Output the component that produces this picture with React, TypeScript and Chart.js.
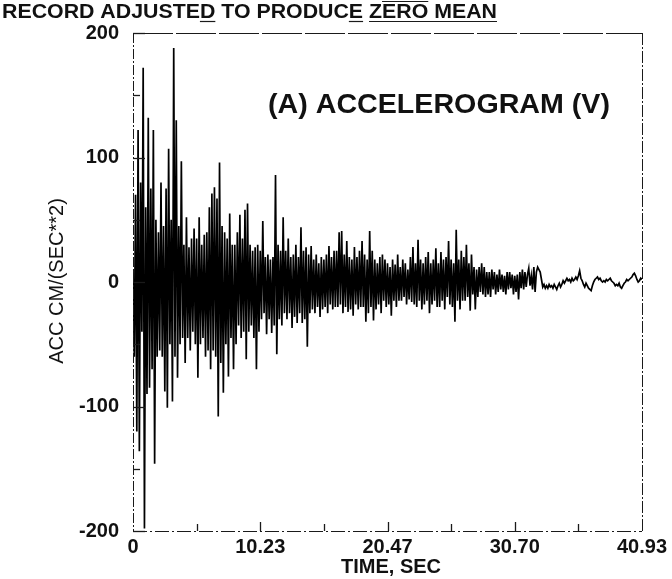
import { useEffect, useRef } from "react";
import { Chart, registerables } from "chart.js";

Chart.register(...registerables);

// ---- data (one sample per step) ----
const TIME_END = 40.93;
const SAMPLE_COUNT = 401;

// 0 - 10 s
const accSeg1 = [
  10, -60, 70, -120, 122, -136, 80, -40, 172, -198,
  60, -90, 132, -85, 75, -70, 122, -146, 50, -60,
  40, -55, 80, -60, 45, -88, 75, -101, 107, -50,
  50, -96, 188, -60, 130, -77, 45, -50, 97, -45,
  30, -65, 52, -45, 28, -55, 35, -40, 43, -50,
  35, -77, 52, -50, 30, -45, 38, -60, 40, -55,
  60, -70, 71, -55, 76, -60, 67, -108, 96, -65,
  45, -89, 40, -50, 35, -76, 55, -45, 30, -70,
  30, -50, 40, -35, 54, -45, 35, -40, 58, -62,
  63, -40, 30, -35, 25, -45, 28, -70, 30, -40,
];
// 10 - 20 s
const accSeg2 = [
  25, -30, 49, -25, 20, -42, 22, -30, 18, -41,
  20, -35, 86, -58, 30, -30, 25, -35, 52, -25,
  25, -30, 35, -25, 20, -37, 22, -28, 30, -33,
  20, -25, 44, -33, 25, -30, 28, -52, 22, -25,
  29, -22, 18, -25, 22, -20, 15, -28, 20, -22,
  18, -20, 22, -25, 29, -18, 20, -22, 25, -20,
  25, -20, 40, -18, 41, -25, 22, -20, 33, -24,
  20, -22, 18, -27, 28, -18, 20, -22, 25, -20,
  33, -20, 22, -32, 18, -25, 41, -20, 25, -31,
  18, -22, 15, -18, 20, -25, 22, -15, 18, -20,
];
// 20 - 30 s
const accSeg3 = [
  15, -18, 12, -27, 18, -15, 14, -20, 22, -15,
  12, -15, 18, -12, 15, -18, 10, -14, 20, -16,
  28, -18, 15, -20, 34, -15, 18, -22, 15, -18,
  20, -15, 24, -25, 15, -18, 18, -15, 27, -20,
  15, -20, 24, -15, 18, -22, 20, -12, 33, -18,
  18, -20, 15, -32, 42, -15, 18, -22, 25, -15,
  20, -15, 30, -12, 15, -23, 22, -10, 12, -22,
  10, -12, 12, -8, 15, -10, 12, -12, 8, -10,
  8, -12, 10, -6, 8, -10, 6, -8, 10, -6,
  6, -8, 5, -10, 8, -6, 8, -5, 6, -10,
];
// 30 - 40.93 s
const accSeg4 = [
  5, -8, 6, -14, 8, -5, 10, -6, 8, -4,
  6, 11, -3, 5, -6, 12, -8, 8, 12, 10,
  8, 2, -4, -2, -5, -3, -5, -2, -4, -3,
  -5, -2, -4, -6, -3, -1, -4, -2, 1, -1,
  1, 3, 1, 2, 0, 3, 1, 2, 4, 2,
  5, 9, 3, 1, -2, -4, -1, -3, -5, -6,
  -7, -3, 0, 2, 3, 4, 2, 3, 1, 0,
  1, 0, 2, 1, 2, 3, 1, 0, -1, -3,
  -2, -3, -1, -4, -5, -3, -1, 0, 2, 1,
  2, 3, 4, 6, 7, 5, 2, 0, 1, 3, 2,
];

const xTickValues = [0, 10.2325, 20.465, 30.6975, 40.93];
const xTickLabels = ["0", "10.23", "20.47", "30.70", "40.93"];
const xMinorTicks = [5.11625, 15.34875, 25.58125, 35.81375];
const yTickValues = [-200, -100, 0, 100, 200];
const yMinorTicks = [-150, -50, 50, 150];

const TITLE = "RECORD ADJUSTED TO PRODUCE ZERO MEAN";
const PANEL_LABEL = "(A) ACCELEROGRAM (V)";
const Y_TITLE = "ACC CM/(SEC**2)";
const X_TITLE = "TIME, SEC";

const INK = "#111";
const FONT = "'Liberation Sans', Arial, Helvetica, sans-serif";

function fitText(
  ctx: CanvasRenderingContext2D,
  text: string,
  x: number,
  y: number,
  width: number,
  font: string
) {
  ctx.font = font;
  const w = ctx.measureText(text).width;
  const s = width / w;
  ctx.save();
  ctx.translate(x, y);
  ctx.scale(s, 1);
  ctx.textAlign = "left";
  ctx.textBaseline = "alphabetic";
  ctx.fillText(text, 0, 0);
  ctx.restore();
  return (sub: string) => ctx.measureText(sub).width * s;
}

const overlayPlugin = {
  id: "overlay",
  afterDraw(chart: any) {
    const ctx: CanvasRenderingContext2D = chart.ctx;
    const { left, right, top, bottom } = chart.chartArea;
    const xs = chart.scales.x;
    const ys = chart.scales.y;
    ctx.save();
    ctx.strokeStyle = "#1a1a1a";
    ctx.fillStyle = INK;
    ctx.lineWidth = 1;

    // frame (scan-like broken lines)
    const line = (x1: number, y1: number, x2: number, y2: number, dash: number[]) => {
      ctx.setLineDash(dash);
      ctx.beginPath();
      ctx.moveTo(x1, y1);
      ctx.lineTo(x2, y2);
      ctx.stroke();
    };
    line(left + 0.5, top, left + 0.5, bottom, [10, 2, 2, 2]);
    line(right + 0.5, top, right + 0.5, bottom, [12, 2, 2, 2]);
    line(left, top + 0.5, right, top + 0.5, [40, 3]);
    line(left, bottom + 0.5, right, bottom + 0.5, [14, 3, 2, 3]);
    ctx.setLineDash([]);

    // inward ticks
    ctx.lineWidth = 1.3;
    yTickValues.forEach((v) => {
      const y = Math.round(ys.getPixelForValue(v)) + 0.5;
      line(left, y, left + 12, y, []);
    });
    yMinorTicks.forEach((v) => {
      const y = Math.round(ys.getPixelForValue(v)) + 0.5;
      line(left, y, left + 7, y, []);
    });
    xTickValues.slice(1, -1).forEach((v) => {
      const x = Math.round(xs.getPixelForValue(v)) + 0.5;
      line(x, bottom, x, bottom - 9, []);
    });
    xMinorTicks.forEach((v) => {
      const x = Math.round(xs.getPixelForValue(v)) + 0.5;
      line(x, bottom, x, bottom - 7, []);
    });

    // header title with underlines
    ctx.fillStyle = INK;
    const m = fitText(ctx, TITLE, 2, 18, 495, `bold 21px ${FONT}`);
    ctx.lineWidth = 1.2;
    const under = (startSub: string, sub: string, y: number) => {
      const x1 = 2 + m(startSub);
      const x2 = x1 + m(sub);
      line(x1, y, x2, y, []);
    };
    under("RECORD ADJUSTE", "D", 21.5);
    under("RECORD ADJUSTED TO PRODUC", "E", 21.5);
    under("RECORD ADJUSTED TO PRODUCE ", "ZERO MEAN", 21.5);
    {
      const x1 = 2 + m("RECORD ADJUSTED TO PRODUCE Z");
      const x2 = 2 + m("RECORD ADJUSTED TO PRODUCE ZERO");
      line(x1, 1.5, x2, 1.5, []);
    }

    // panel label
    fitText(ctx, PANEL_LABEL, 268, 113, 342, `bold 28px ${FONT}`);

    // x axis title
    ctx.font = `bold 20px ${FONT}`;
    ctx.textAlign = "center";
    ctx.textBaseline = "alphabetic";
    ctx.fillText(X_TITLE, 391, 573);

    // y axis title
    ctx.save();
    ctx.translate(63, 281);
    ctx.rotate(-Math.PI / 2);
    ctx.font = `20px ${FONT}`;
    ctx.textAlign = "center";
    ctx.textBaseline = "alphabetic";
    ctx.fillText(Y_TITLE, 0, 0);
    ctx.restore();

    ctx.restore();
  },
};

export default function App() {
  const canvasRef = useRef<HTMLCanvasElement | null>(null);

  useEffect(() => {
    const canvas = canvasRef.current;
    if (!canvas) return;
    const values = [...accSeg1, ...accSeg2, ...accSeg3, ...accSeg4];
    const dt = TIME_END / (SAMPLE_COUNT - 1);
    const points = values.map((v, i) => ({ x: i * dt, y: v }));

    const chart = new Chart(canvas, {
      type: "line",
      data: {
        datasets: [
          {
            data: points,
            borderColor: "#000",
            borderWidth: 1.7,
            pointRadius: 0,
            tension: 0,
            fill: false,
          },
        ],
      },
      options: {
        animation: false,
        responsive: false,
        devicePixelRatio: 1,
        layout: { padding: { left: 0, right: 30, top: 33, bottom: 0 } },
        plugins: {
          legend: { display: false },
          tooltip: { enabled: false },
          title: { display: false },
        },
        scales: {
          x: {
            type: "linear",
            min: 0,
            max: TIME_END,
            afterBuildTicks: (s: any) => {
              s.ticks = xTickValues.map((v) => ({ value: v }));
            },
            afterFit: (s: any) => {
              s.height = 48;
            },
            ticks: {
              autoSkip: false,
              maxRotation: 0,
              padding: 4,
              color: INK,
              font: { family: FONT, size: 20, weight: "bold" },
              callback: (_v: any, i: number) => xTickLabels[i],
            },
            grid: { display: false, drawTicks: false },
            border: { display: false },
          },
          y: {
            min: -200,
            max: 200,
            afterBuildTicks: (s: any) => {
              s.ticks = yTickValues.map((v) => ({ value: v }));
            },
            afterFit: (s: any) => {
              s.width = 133;
            },
            ticks: {
              padding: 14,
              color: INK,
              font: { family: FONT, size: 20, weight: "bold" },
              callback: (v: any) => String(v),
            },
            grid: { display: false, drawTicks: false },
            border: { display: false },
          },
        },
      },
      plugins: [overlayPlugin],
    } as any);

    return () => chart.destroy();
  }, []);

  return (
    <div style={{ position: "fixed", left: 0, top: 0, width: 672, height: 579, background: "#fff" }}>
      <canvas ref={canvasRef} width={672} height={579} />
    </div>
  );
}
